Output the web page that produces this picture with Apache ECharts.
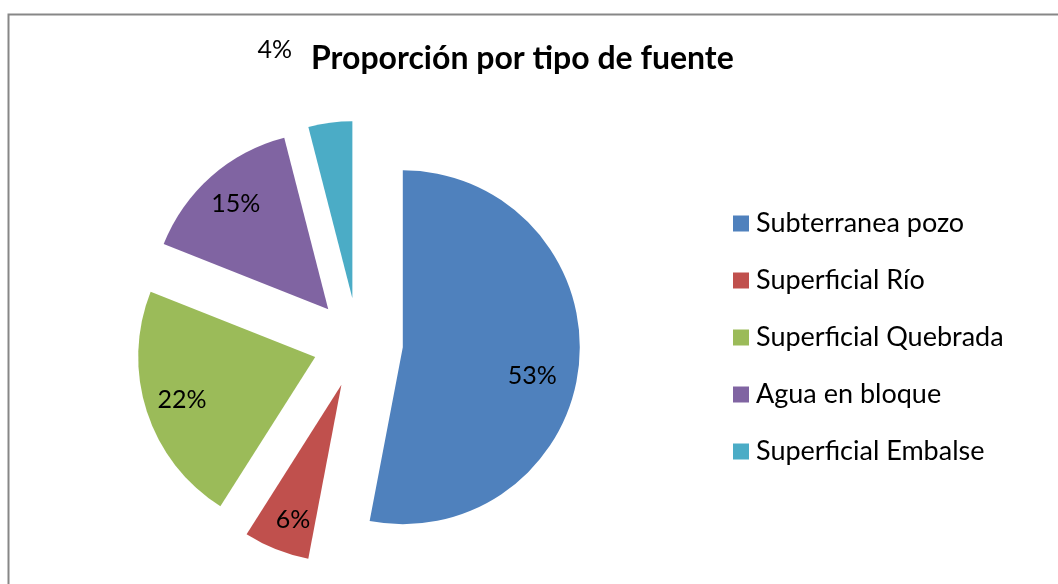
<!DOCTYPE html>
<html>
<head>
<meta charset="utf-8">
<script src="https://cdn.jsdelivr.net/npm/echarts@6/dist/echarts.min.js"></script>
<style>
  html, body { margin: 0; padding: 0; background: #fff; }
  #chart { width: 1058px; height: 584px; }
</style>
</head>
<body>
<div id="chart"></div>
<script>
// ---- data ----
const titleText = 'Proporción por tipo de fuente';
const categories = ['Subterranea pozo', 'Superficial Río', 'Superficial Quebrada', 'Agua en bloque', 'Superficial Embalse'];
const values = [53, 6, 22, 15, 4];
const colors = ['#4F81BD', '#C0504D', '#9BBB59', '#8064A2', '#4BACC6'];

const FONT = 'Lato';
const chart = echarts.init(document.getElementById('chart'), null, { renderer: 'canvas' });

const pieCenter = [358, 343];
const pieR = 177;
const explode = 45;

const mainData = categories.map((n, i) => ({
  name: n, value: values[i], selected: true, itemStyle: { color: colors[i] }
}));
const labelData = categories.map((n, i) => {
  const item = { name: n, value: values[i], selected: true };
  if (i === 0) {
    item.label = { formatter: '\n{c}%', lineHeight: 32, padding: [0, 20, 0, 0] };
  }
  if (i === 1) {
    item.label = { formatter: '\n{c}%', lineHeight: 10, padding: [0, 0, 0, 6] };
  }
  if (i === 4) {
    item.label = { position: 'outside' };
    item.labelLine = { show: false, length: 73, length2: 24 };
  }
  return item;
});

chart.setOption({
  animation: false,
  backgroundColor: '#ffffff',
  title: {
    text: titleText,
    left: 306, top: 38,
    textStyle: { fontFamily: FONT, fontWeight: 'bold', fontSize: 32, color: '#000' }
  },
  legend: {
    orient: 'vertical',
    left: 733, top: 210, padding: 0,
    itemWidth: 16, itemHeight: 16, itemGap: 30,
    icon: 'rect',
    data: categories,
    selectedMode: false,
    textStyle: { fontFamily: FONT, fontSize: 27, lineHeight: 24, color: '#000', padding: [0, 0, 0, 2] }
  },
  graphic: [{
    type: 'rect', silent: true, z: -1,
    shape: { x: 8.5, y: 14.5, width: 1200, height: 700 },
    style: { fill: 'none', stroke: '#878787', lineWidth: 2 }
  }],
  series: [{
    type: 'pie', z: 2,
    center: pieCenter, radius: pieR,
    startAngle: 90, clockwise: true,
    selectedMode: 'multiple', selectedOffset: explode,
    avoidLabelOverlap: false,
    label: { show: false }, labelLine: { show: false },
    emphasis: { scale: false },
    data: mainData
  }, {
    type: 'pie', silent: true, z: 5,
    center: pieCenter, radius: [97, pieR],
    startAngle: 90, clockwise: true,
    selectedMode: 'multiple', selectedOffset: explode,
    avoidLabelOverlap: false,
    itemStyle: { color: 'rgba(255,255,255,0)' },
    label: { show: true, position: 'inside', formatter: '{c}%', fontFamily: FONT, fontSize: 25, color: '#000' },
    labelLine: { show: false },
    data: labelData
  }]
});
</script>
</body>
</html>
